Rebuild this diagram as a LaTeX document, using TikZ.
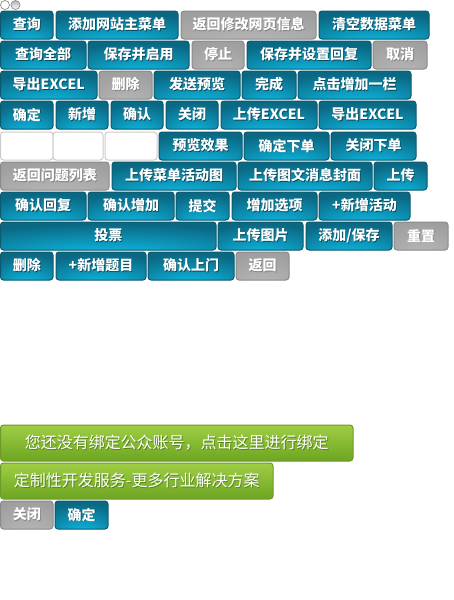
\documentclass[tikz,border=0pt]{standalone}
\usepackage{fontspec}
\newfontfamily\cjk{Noto Sans CJK SC}
\definecolor{bdark}{HTML}{0B6883}
\definecolor{blight}{HTML}{0DB0D8}
\definecolor{bborder}{HTML}{0A5A70}
\definecolor{gdark}{HTML}{9E9E9E}
\definecolor{glight}{HTML}{B2B2B2}
\definecolor{gborder}{HTML}{8A8A8A}
\definecolor{grtop}{HTML}{9FCE45}
\definecolor{grbot}{HTML}{6DA521}
\definecolor{grborder}{HTML}{6E9B26}
\definecolor{inborder}{HTML}{CCCCCC}
\definecolor{shc}{HTML}{0A4F62}
\pgfdeclareradialshading{bluebtn}{\pgfpoint{0bp}{-42bp}}{color(0bp)=(blight); color(10bp)=(blight); color(40bp)=(bdark); color(70bp)=(bdark)}
\pgfdeclareradialshading{graybtn}{\pgfpoint{0bp}{-40bp}}{color(0bp)=(glight); color(12bp)=(glight); color(42bp)=(gdark); color(70bp)=(gdark)}
\newcommand\shtext[1]{\rlap{\raisebox{-0.8pt}{\kern0.8pt\textcolor{shc}{#1}}}#1}
\newcommand\btn[7]{\node[btnbase,#2,minimum width={(#4)-(#3)},minimum height={(#6)-(#5)}] (#1) at ({((#3)+(#4))/2},{-((#5)+(#6))/2}) {\shtext{#7}};}
\tikzset{
  btnbase/.style={rectangle,rounded corners=3pt,inner sep=0pt,outer sep=0pt,line width=1pt,text=white,
    font=\cjk\fontsize{14}{16}\selectfont},
  bluebtn/.style={draw=bborder,shading=bluebtn,font=\cjk\fontsize{14}{16}\selectfont\bfseries,
    execute at begin node={\colorlet{shc}{bborder!80!black}}},
  graybtn/.style={draw=gborder,shading=graybtn,font=\cjk\fontsize{14}{16}\selectfont\bfseries,
    execute at begin node={\colorlet{shc}{black!50}}},
  greenbtn/.style={draw=grborder,top color=grtop,bottom color=grbot,font=\cjk\fontsize{16}{18}\selectfont,
    execute at begin node={\colorlet{shc}{grbot!80!black}}},
  inbox/.style={draw=inborder,fill=white},
}
\begin{document}
\begin{tikzpicture}[x=1pt,y=1pt]
\useasboundingbox (0,0) rectangle (454,-600);
\fill[white] (0,0) rectangle (454,-600);
% tiny radio-like inputs
\node[circle,draw=black!45,fill=white,line width=0.7pt,minimum size=9pt,inner sep=0pt] (r1) at (5,-5) {};
\node[circle,draw=black!45,top color=black!30,bottom color=white,line width=0.7pt,minimum size=9pt,inner sep=0pt] (r2) at (15.5,-5) {};
% row 1
\btn{a1}{bluebtn}{0.5}{53}{11}{39}{查询}
\btn{a2}{bluebtn}{56}{178}{11}{39}{添加网站主菜单}
\btn{a3}{graybtn}{181}{316}{11}{39}{返回修改网页信息}
\btn{a4}{bluebtn}{319}{429}{11}{39}{清空数据菜单}
% row 2
\btn{b1}{bluebtn}{0.5}{86}{41}{69}{查询全部}
\btn{b2}{bluebtn}{88}{189}{41}{69}{保存并启用}
\btn{b3}{graybtn}{192}{244}{41}{69}{停止}
\btn{b4}{bluebtn}{247}{371}{41}{69}{保存并设置回复}
\btn{b5}{graybtn}{373}{427}{41}{69}{取消}
% row 3
\btn{c1}{bluebtn}{0.5}{97}{71}{99}{导出EXCEL}
\btn{c2}{graybtn}{99}{152}{71}{99}{删除}
\btn{c3}{bluebtn}{154}{240}{71}{99}{发送预览}
\btn{c4}{bluebtn}{242}{296}{71}{99}{完成}
\btn{c5}{bluebtn}{298}{411}{71}{99}{点击增加一栏}
% row 4
\btn{d1}{bluebtn}{0.5}{53}{101}{129}{确定}
\btn{d2}{bluebtn}{56}{108}{101}{129}{新增}
\btn{d3}{bluebtn}{111}{163}{101}{129}{确认}
\btn{d4}{bluebtn}{166}{218}{101}{129}{关闭}
\btn{d5}{bluebtn}{221}{317}{101}{129}{上传EXCEL}
\btn{d6}{bluebtn}{319}{416}{101}{129}{导出EXCEL}
% row 5
\node[btnbase,inbox,minimum width=52.5pt,minimum height=28pt] (e1) at (26.75,-146) {};
\node[btnbase,inbox,minimum width=50pt,minimum height=28pt] (e2) at (78,-146) {};
\node[btnbase,inbox,minimum width=52pt,minimum height=28pt] (e3) at (131,-146) {};
\btn{e4}{bluebtn}{159}{242}{132}{160}{预览效果}
\btn{e5}{bluebtn}{244}{329}{132}{160}{确定下单}
\btn{e6}{bluebtn}{331}{416}{132}{160}{关闭下单}
% row 6
\btn{f1}{graybtn}{0.5}{109}{162}{190}{返回问题列表}
\btn{f2}{bluebtn}{112}{236}{162}{190}{上传菜单活动图}
\btn{f3}{bluebtn}{238}{372}{162}{190}{上传图文消息封面}
\btn{f4}{bluebtn}{374}{427}{162}{190}{上传}
% row 7
\btn{g1}{bluebtn}{0.5}{86}{192}{220}{确认回复}
\btn{g2}{bluebtn}{88}{174}{192}{220}{确认增加}
\btn{g3}{bluebtn}{176}{229}{192}{220}{提交}
\btn{g4}{bluebtn}{232}{317}{192}{220}{增加选项}
\btn{g5}{bluebtn}{319}{410}{192}{220}{+新增活动}
% row 8
\btn{h1}{bluebtn}{0.5}{216}{222}{250}{投票}
\btn{h2}{bluebtn}{218}{303}{222}{250}{上传图片}
\btn{h3}{bluebtn}{306}{392}{222}{250}{添加/保存}
\btn{h4}{graybtn}{394}{448}{222}{250}{重置}
% row 9
\btn{i1}{bluebtn}{0.5}{53}{252}{280}{删除}
\btn{i2}{bluebtn}{56}{146}{252}{280}{+新增题目}
\btn{i3}{bluebtn}{148}{234}{252}{280}{确认上门}
\btn{i4}{graybtn}{236}{289}{252}{280}{返回}
% green
\btn{j1}{greenbtn}{0.5}{353}{425}{461}{您还没有绑定公众账号，点击这里进行绑定}
\btn{j2}{greenbtn}{0.5}{273}{463}{499}{定制性开发服务-更多行业解决方案}
% bottom
\btn{k1}{graybtn}{0.5}{53}{501}{529}{关闭}
\btn{k2}{bluebtn}{55}{108}{501}{529}{确定}
\end{tikzpicture}
\end{document}
